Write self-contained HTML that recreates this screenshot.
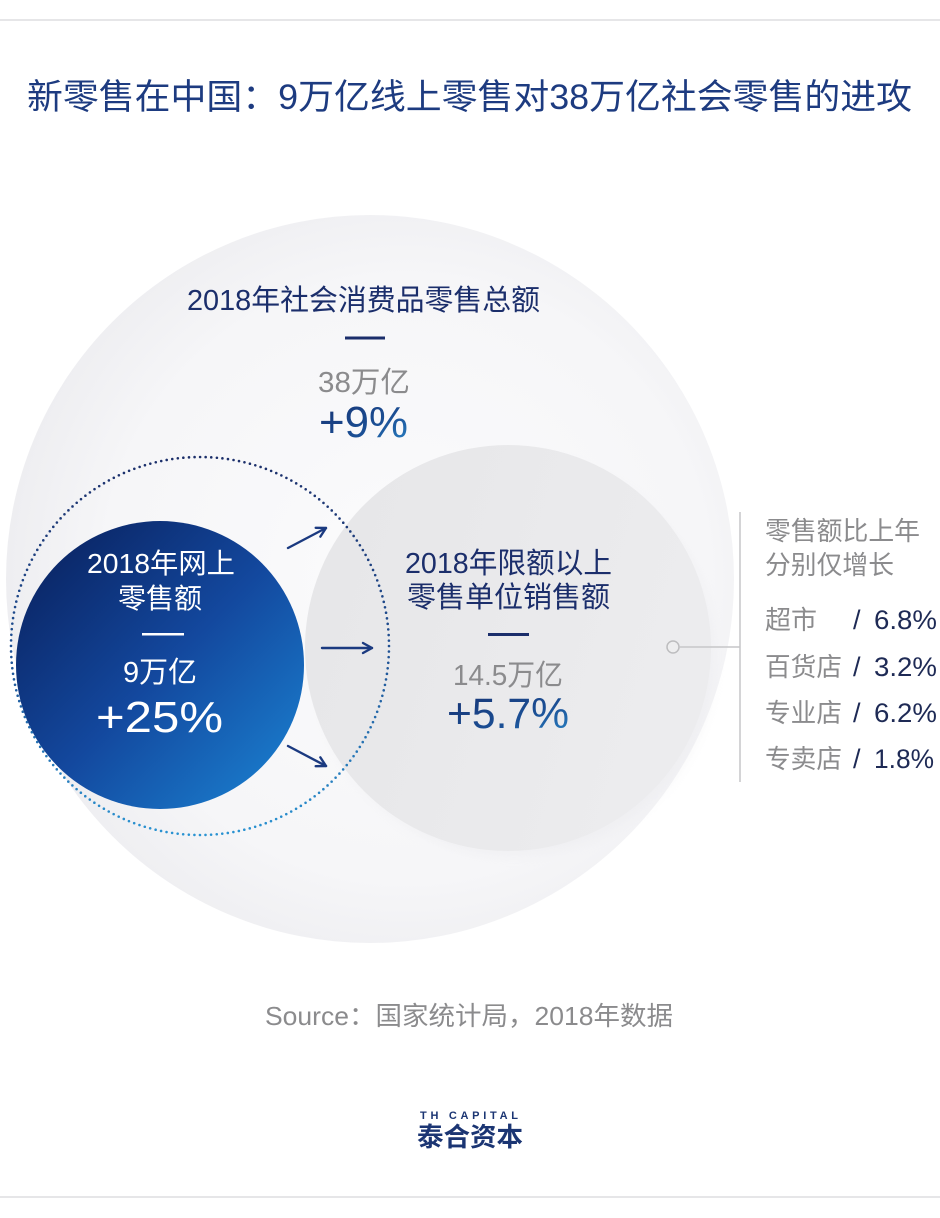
<!DOCTYPE html>
<html>
<head>
<meta charset="utf-8">
<style>
  html, body { margin: 0; padding: 0; background: #ffffff; }
  body { width: 940px; height: 1218px; overflow: hidden; }
  svg { display: block; }
  text { font-family: "Liberation Sans", "Noto Sans CJK SC", sans-serif; }
</style>
</head>
<body>
<svg width="940" height="1218" viewBox="0 0 940 1218" xmlns="http://www.w3.org/2000/svg">
  <defs>
    <radialGradient id="bigFill" cx="0.55" cy="0.5" r="0.55">
      <stop offset="0" stop-color="#fbfbfc"/>
      <stop offset="0.75" stop-color="#f6f6f8"/>
      <stop offset="1" stop-color="#eeeef1"/>
    </radialGradient>
    <linearGradient id="grayFill" x1="0" y1="0" x2="1" y2="0.3">
      <stop offset="0" stop-color="#e6e6e8"/>
      <stop offset="1" stop-color="#ececee"/>
    </linearGradient>
    <linearGradient id="blueFill" gradientUnits="userSpaceOnUse" x1="40" y1="545" x2="290" y2="790">
      <stop offset="0" stop-color="#0a2463"/>
      <stop offset="0.5" stop-color="#13489e"/>
      <stop offset="1" stop-color="#1a7fcf"/>
    </linearGradient>
    <linearGradient id="dotStroke" gradientUnits="userSpaceOnUse" x1="0" y1="457" x2="0" y2="835">
      <stop offset="0" stop-color="#1c2f6a"/>
      <stop offset="0.5" stop-color="#1f4f92"/>
      <stop offset="1" stop-color="#2a93d2"/>
    </linearGradient>
    <linearGradient id="pctGrad" x1="0" y1="0" x2="1" y2="1">
      <stop offset="0" stop-color="#16306f"/>
      <stop offset="0.6" stop-color="#1b4f95"/>
      <stop offset="1" stop-color="#2a86c8"/>
    </linearGradient>
    <filter id="soft" x="-20%" y="-20%" width="140%" height="140%">
      <feGaussianBlur stdDeviation="6"/>
    </filter>
    <marker id="arr" viewBox="0 0 12 12" refX="11" refY="6" markerWidth="12" markerHeight="12" markerUnits="userSpaceOnUse" orient="auto" overflow="visible">
      <path d="M2,1 L11,6 L2,11" fill="none" stroke="#1b3a80" stroke-width="2.4" stroke-linecap="round" stroke-linejoin="round"/>
    </marker>
  </defs>

  <!-- top / bottom rules -->
  <rect x="0" y="19" width="940" height="2" fill="#e6e6e8"/>
  <rect x="0" y="1196" width="940" height="2" fill="#e6e6e8"/>

  <!-- title -->
  <text x="27" y="109" font-size="35" fill="#1d3b80" textLength="885" lengthAdjust="spacingAndGlyphs">新零售在中国：9万亿线上零售对38万亿社会零售的进攻</text>

  <!-- big circle -->
  <circle cx="370" cy="579" r="364" fill="url(#bigFill)"/>

  <!-- gray circle with soft shadow -->
  <circle cx="514" cy="656" r="200" fill="#e4e4e8" opacity="0.35" filter="url(#soft)"/>
  <circle cx="508" cy="648" r="203" fill="url(#grayFill)"/>

  <!-- blue circle -->
  <circle cx="160" cy="665" r="144" fill="url(#blueFill)"/>

  <!-- dotted circle -->
  <circle cx="200" cy="646" r="189" fill="none" stroke="url(#dotStroke)" stroke-width="2.6" stroke-dasharray="0 5.6" stroke-linecap="round"/>

  <!-- arrows -->
  <line x1="288" y1="548" x2="326" y2="528" stroke="#1b3a80" stroke-width="2.4" stroke-linecap="round" marker-end="url(#arr)"/>
  <line x1="322" y1="648" x2="372" y2="648" stroke="#1b3a80" stroke-width="2.4" stroke-linecap="round" marker-end="url(#arr)"/>
  <line x1="288" y1="746" x2="326" y2="766" stroke="#1b3a80" stroke-width="2.4" stroke-linecap="round" marker-end="url(#arr)"/>

  <!-- big circle labels -->
  <text x="187" y="310" font-size="29" fill="#1b2e6b" textLength="353" lengthAdjust="spacingAndGlyphs">2018年社会消费品零售总额</text>
  <rect x="345" y="336.5" width="40" height="3" fill="#1b2e6b"/>
  <text x="318" y="392" font-size="29" fill="#8b8b8d" textLength="92" lengthAdjust="spacingAndGlyphs">38万亿</text>
  <text x="319" y="437" font-size="44" fill="url(#pctGrad)" textLength="89" lengthAdjust="spacingAndGlyphs">+9%</text>

  <!-- blue circle labels -->
  <text x="87" y="573" font-size="28" fill="#ffffff" textLength="148" lengthAdjust="spacingAndGlyphs">2018年网上</text>
  <text x="118" y="608" font-size="28" fill="#ffffff" textLength="84" lengthAdjust="spacingAndGlyphs">零售额</text>
  <rect x="142" y="633" width="42" height="2.5" fill="#ffffff"/>
  <text x="123" y="682" font-size="29" fill="#ffffff" textLength="74" lengthAdjust="spacingAndGlyphs">9万亿</text>
  <text x="96" y="732" font-size="44" fill="#ffffff" textLength="127" lengthAdjust="spacingAndGlyphs">+25%</text>

  <!-- gray circle labels -->
  <text x="405" y="573" font-size="29" fill="#1b2e6b" textLength="207" lengthAdjust="spacingAndGlyphs">2018年限额以上</text>
  <text x="407" y="607" font-size="29" fill="#1b2e6b" textLength="203" lengthAdjust="spacingAndGlyphs">零售单位销售额</text>
  <rect x="488" y="633" width="41" height="3" fill="#1b2e6b"/>
  <text x="453" y="685" font-size="29" fill="#8b8b8d" textLength="110" lengthAdjust="spacingAndGlyphs">14.5万亿</text>
  <text x="447" y="728" font-size="43" fill="url(#pctGrad)" textLength="122" lengthAdjust="spacingAndGlyphs">+5.7%</text>

  <!-- connector -->
  <circle cx="673" cy="647" r="6" fill="#eeeeef" stroke="#bdbdbf" stroke-width="1.5"/>
  <line x1="679" y1="647" x2="740" y2="647" stroke="#c6c6c8" stroke-width="1.5"/>
  <line x1="740" y1="512" x2="740" y2="782" stroke="#c6c6c8" stroke-width="1.5"/>

  <!-- right column -->
  <text x="765" y="540" font-size="26" fill="#8b8b8d" textLength="155" lengthAdjust="spacingAndGlyphs">零售额比上年</text>
  <text x="765" y="574" font-size="26" fill="#8b8b8d" textLength="129" lengthAdjust="spacingAndGlyphs">分别仅增长</text>

  <text x="765" y="629" font-size="26" fill="#8b8b8d">超市</text>
  <text x="853" y="629" font-size="27" fill="#1e2a55">/</text>
  <text x="874" y="629" font-size="27" fill="#1e2a55" textLength="63" lengthAdjust="spacingAndGlyphs">6.8%</text>

  <text x="765" y="676" font-size="26" fill="#8b8b8d" textLength="77" lengthAdjust="spacingAndGlyphs">百货店</text>
  <text x="853" y="676" font-size="27" fill="#1e2a55">/</text>
  <text x="874" y="676" font-size="27" fill="#1e2a55" textLength="63" lengthAdjust="spacingAndGlyphs">3.2%</text>

  <text x="765" y="722" font-size="26" fill="#8b8b8d" textLength="77" lengthAdjust="spacingAndGlyphs">专业店</text>
  <text x="853" y="722" font-size="27" fill="#1e2a55">/</text>
  <text x="874" y="722" font-size="27" fill="#1e2a55" textLength="63" lengthAdjust="spacingAndGlyphs">6.2%</text>

  <text x="765" y="768" font-size="26" fill="#8b8b8d" textLength="77" lengthAdjust="spacingAndGlyphs">专卖店</text>
  <text x="853" y="768" font-size="27" fill="#1e2a55">/</text>
  <text x="874" y="768" font-size="27" fill="#1e2a55" textLength="60" lengthAdjust="spacingAndGlyphs">1.8%</text>

  <!-- source -->
  <text x="265" y="1025" font-size="26" fill="#8b8b8d" textLength="408" lengthAdjust="spacingAndGlyphs">Source：国家统计局，2018年数据</text>

  <!-- logo -->
  <text x="420" y="1119" font-size="11" font-weight="bold" fill="#1b3573" textLength="98" lengthAdjust="spacing">TH CAPITAL</text>
  <text x="417" y="1146" font-size="26" font-weight="bold" fill="#1b3573" textLength="106" lengthAdjust="spacingAndGlyphs">泰合资本</text>
</svg>
</body>
</html>
